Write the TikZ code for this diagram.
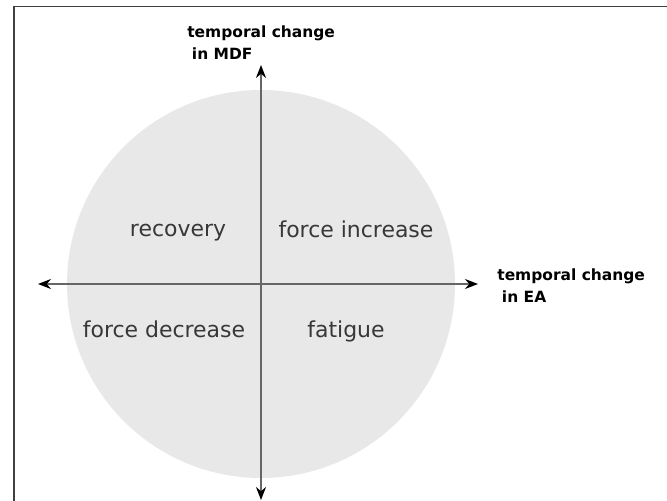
\documentclass[tikz,border=0pt]{standalone}
\usepackage{fontspec}
\setmainfont{DejaVu Sans}
\usetikzlibrary{arrows.meta, positioning}

\begin{document}
\begin{tikzpicture}[
    every node/.style={inner sep=0pt},
    disc/.style={
            circle,
            fill=black!9,
            minimum size=7.76cm
        },
    axis/.style={
            draw=black!60,
            line width=0.8pt,
            {Stealth[length=2.6mm, width=2mm, black]}-{Stealth[length=2.6mm, width=2mm, black]}
        },
    frame/.style={draw=black!75, line width=1.1pt},
    axis_label/.style={
            font=\bfseries\fontsize{8.8}{13}\selectfont,
            align=left,
            anchor=north west
        },
    quadrant/.style={
            font=\fontsize{12.5}{15}\selectfont,
            text=black!78,
            anchor=base
        },
    ]

    \useasboundingbox (0,0) rectangle (13.34,10.02);

    % --- Frame ---
    \draw[frame] (0.28,0) -- (0.28,9.89) -- (13.34,9.89);

    % --- Disc and axes ---
    \coordinate (origin) at (5.22,4.34);
    \node (disc) [disc] at (origin) {};

    \coordinate (ea_neg) at (0.76,4.34);
    \coordinate (ea_pos) at (9.56,4.34);
    \coordinate (mdf_pos) at (5.22,8.72);
    \coordinate (mdf_neg) at (5.22,0.02);

    \draw[axis] (ea_neg) -- (ea_pos);
    \draw[axis] (mdf_neg) -- (mdf_pos);

    % --- Axis labels ---
    \node (mdf_label) [axis_label] at (3.74,9.52) {temporal change\\\hspace{0.3em}in MDF};
    \node (ea_label) [axis_label] at (9.94,4.66) {temporal change\\\hspace{0.3em}in EA};

    % --- Quadrants ---
    \node (recovery) [quadrant] at (3.56,5.28) {recovery};
    \node (force_inc) [quadrant] at (7.12,5.26) {force increase};
    \node (force_dec) [quadrant] at (3.28,3.26) {force decrease};
    \node (fatigue) [quadrant] at (6.92,3.26) {fatigue};

\end{tikzpicture}
\end{document}
